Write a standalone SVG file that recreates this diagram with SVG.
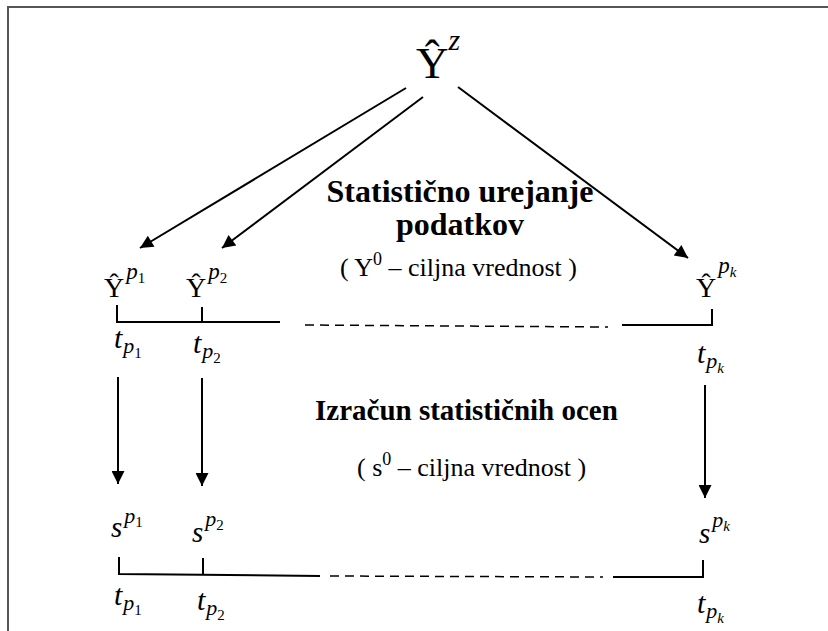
<svg xmlns="http://www.w3.org/2000/svg" width="828" height="631" viewBox="0 0 828 631">
<style>
text{font-family:'Liberation Serif','Times New Roman','DejaVu Serif',serif;fill:#000}
.i{font-style:italic}
.n{font-style:normal}
.b{font-weight:bold}
.ln{stroke:#000;stroke-width:2;fill:none}
.ds{stroke:#000;stroke-width:1.5;fill:none;stroke-dasharray:9,6}
</style>
<defs>
<marker id="ah" viewBox="0 0 10 10" refX="10" refY="5" markerWidth="9" markerHeight="6.5" markerUnits="strokeWidth" orient="auto">
<path d="M0,0 L10,5 L0,10 Z" fill="#000"/>
</marker>
</defs>
<rect width="828" height="631" fill="#fff"/>
<g id="frame">
<path d="M8,631 V7 H828" stroke="#555" stroke-width="2" fill="none"/>
</g>
<g id="yz"><text x="416" y="78" font-size="45">Ŷ<tspan class="i" font-size="30" dy="-28">z</tspan></text></g>
<g id="lbl1"><text class="b" x="460" y="202" font-size="32" text-anchor="middle">Statistično urejanje</text>
<text class="b" x="460" y="235" font-size="32" text-anchor="middle">podatkov</text>
<text x="340" y="276" font-size="26">( Y<tspan font-size="18" dy="-11">0</tspan><tspan dy="11"> – ciljna vrednost )</tspan></text></g>
<g id="yp1"><text x="104" y="297" font-size="28">Ŷ<tspan class="i" font-size="23" dx="2" dy="-18">p</tspan><tspan font-size="15" dy="4">1</tspan></text></g>
<g id="yp2"><text x="186" y="297" font-size="28">Ŷ<tspan class="i" font-size="23" dx="2" dy="-18">p</tspan><tspan font-size="15" dy="4">2</tspan></text></g>
<g id="ypk"><text x="696" y="297" font-size="28">Ŷ<tspan class="i" font-size="23" dx="2" dy="-24">p</tspan><tspan class="i" font-size="15" dy="4">k</tspan></text></g>
<g id="t1a"><text class="i" x="114" y="348" font-size="30">t<tspan font-size="22" dx="1" dy="5">p</tspan><tspan class="n" font-size="15" dy="5">1</tspan></text></g>
<g id="t2a"><text class="i" x="193" y="353" font-size="30">t<tspan font-size="22" dx="1" dy="5">p</tspan><tspan class="n" font-size="15" dy="5">2</tspan></text></g>
<g id="tka"><text class="i" x="697" y="363" font-size="30">t<tspan font-size="22" dx="1" dy="5">p</tspan><tspan font-size="15" dy="5">k</tspan></text></g>
<g id="lbl2"><text class="b" x="315" y="420" font-size="29">Izračun statističnih ocen</text>
<text x="357" y="476" font-size="26">( s<tspan font-size="18" dy="-11">0</tspan><tspan dy="11"> – ciljna vrednost )</tspan></text></g>
<g id="sp1"><text class="i" x="111" y="537" font-size="29">s<tspan font-size="22" dx="2" dy="-14">p</tspan><tspan class="n" font-size="15" dy="4">1</tspan></text></g>
<g id="sp2"><text class="i" x="192" y="542" font-size="29">s<tspan font-size="22" dx="2" dy="-16">p</tspan><tspan class="n" font-size="15" dy="4">2</tspan></text></g>
<g id="spk"><text class="i" x="699" y="543" font-size="29">s<tspan font-size="22" dx="2" dy="-16">p</tspan><tspan font-size="15" dy="4">k</tspan></text></g>
<g id="t1b"><text class="i" x="114" y="605" font-size="30">t<tspan font-size="22" dx="1" dy="5">p</tspan><tspan class="n" font-size="15" dy="5">1</tspan></text></g>
<g id="t2b"><text class="i" x="197" y="610" font-size="30">t<tspan font-size="22" dx="1" dy="5">p</tspan><tspan class="n" font-size="15" dy="5">2</tspan></text></g>
<g id="tkb"><text class="i" x="697" y="613" font-size="30">t<tspan font-size="22" dx="1" dy="5">p</tspan><tspan font-size="15" dy="5">k</tspan></text></g>
<g id="connectors">
<line class="ln" x1="406" y1="88" x2="140" y2="248" marker-end="url(#ah)"/>
<line class="ln" x1="423" y1="97" x2="222" y2="248" marker-end="url(#ah)"/>
<line class="ln" x1="458" y1="87" x2="688" y2="258" marker-end="url(#ah)"/>
<line class="ln" x1="118" y1="377" x2="118" y2="484" marker-end="url(#ah)"/>
<line class="ln" x1="202" y1="378" x2="202" y2="486" marker-end="url(#ah)"/>
<line class="ln" x1="705" y1="385" x2="705" y2="498" marker-end="url(#ah)"/>
<path class="ln" d="M117,305 V322 H280"/>
<line class="ln" x1="202" y1="307" x2="202" y2="322"/>
<line class="ds" x1="305" y1="325" x2="608" y2="327"/>
<path class="ln" d="M622,325 H712 V309"/>
<path class="ln" d="M119,557 V574 L320,576"/>
<line class="ln" x1="203" y1="558" x2="203" y2="575"/>
<line class="ds" x1="330" y1="576" x2="603" y2="577"/>
<path class="ln" d="M613,577 H703 V560"/>
</g>
</svg>
